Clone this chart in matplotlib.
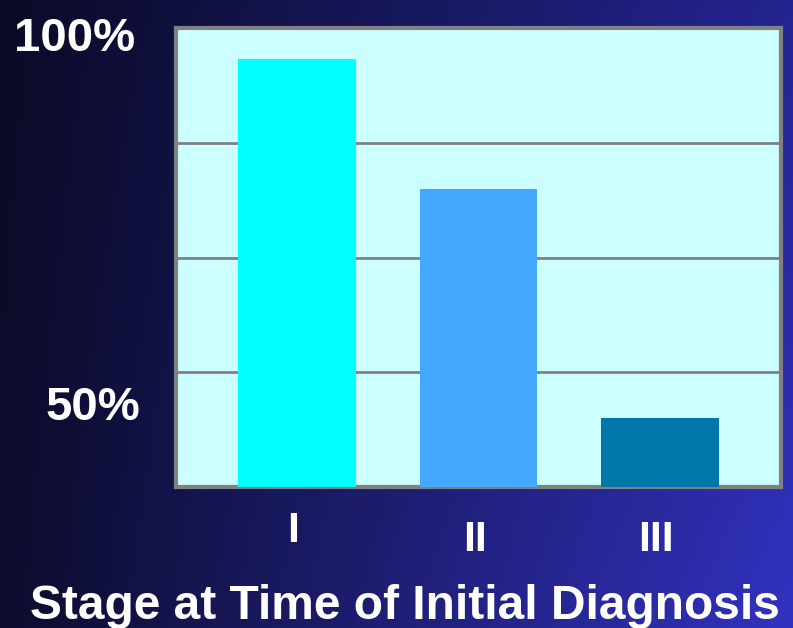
import numpy as np
import matplotlib
matplotlib.use("Agg")
import matplotlib.pyplot as plt
from matplotlib.transforms import ScaledTranslation

# survival by stage (percent)
stages = ["I", "II", "III"]
values = [96, 79, 49]
bar_colors = ["#00ffff", "#44a8ff", "#0077a8"]
y_labels = ["50%", "100%"]
y_label_vals = [50, 100]
grid_vals = [55, 70, 85]
xlabel = "Stage at Time of Initial Diagnosis"

plt.rcParams['font.family'] = ['Liberation Sans', 'DejaVu Sans']

fig = plt.figure(figsize=(7.93, 6.28), dpi=100)

# background gradient, dark navy on the left to blue on the right
bg = fig.add_axes([0, 0, 1, 1])
gx = np.linspace(0, 1, 256)
gy = np.linspace(0, 1, 64)
X, Y = np.meshgrid(gx, gy)
left_top = np.array([10, 10, 38]) / 255
left_bot = np.array([12, 12, 45]) / 255
right_top = np.array([36, 36, 145]) / 255
right_bot = np.array([50, 50, 192]) / 255
img = ((1 - X)[..., None] * ((1 - Y)[..., None] * left_top + Y[..., None] * left_bot)
       + X[..., None] * ((1 - Y)[..., None] * right_top + Y[..., None] * right_bot))
bg.imshow(img, aspect="auto", extent=[0, 1, 0, 1], origin="upper")
bg.axis("off")

ax = fig.add_axes([176 / 793, 141 / 628, 605 / 793, 459 / 628])
ax.set_facecolor("#ccffff")
x = np.arange(len(stages))
ax.bar(x, values, width=0.65, color=bar_colors, zorder=3)
ax.set_xlim(-0.67, 2.67)
ax.set_ylim(40, 100)

for g in grid_vals:
    ax.axhline(g, color="#808080", linewidth=2, zorder=2)

for s in ax.spines.values():
    s.set_color("#808080")
    s.set_linewidth(3)

ax.set_xticks(x)
ax.set_xticklabels(stages, color="white", fontsize=31, fontweight="bold")
ax.tick_params(axis="x", length=0, pad=24)
for i, lbl in enumerate(ax.get_xticklabels()):
    dy = 0.09 if i == 0 else 0.0  # the first label sits higher in the original
    lbl.set_transform(lbl.get_transform() + ScaledTranslation(-0.04, dy, fig.dpi_scale_trans))

ax.set_yticks(y_label_vals)
ax.set_yticklabels(y_labels, color="white", fontsize=34, fontweight="bold")
ax.tick_params(axis="y", length=0, pad=26)
ylbls = ax.get_yticklabels()
ylbls[0].set_transform(ylbls[0].get_transform()
                       + ScaledTranslation(0, 0.07, fig.dpi_scale_trans))
ylbls[1].set_transform(ylbls[1].get_transform()
                       + ScaledTranslation(-0.05, -0.06, fig.dpi_scale_trans))

fig.text(0.511, 0.035, xlabel, color="white", fontsize=34.5, fontweight="bold",
         ha="center", va="center")

fig.savefig("out.png", dpi=100)
